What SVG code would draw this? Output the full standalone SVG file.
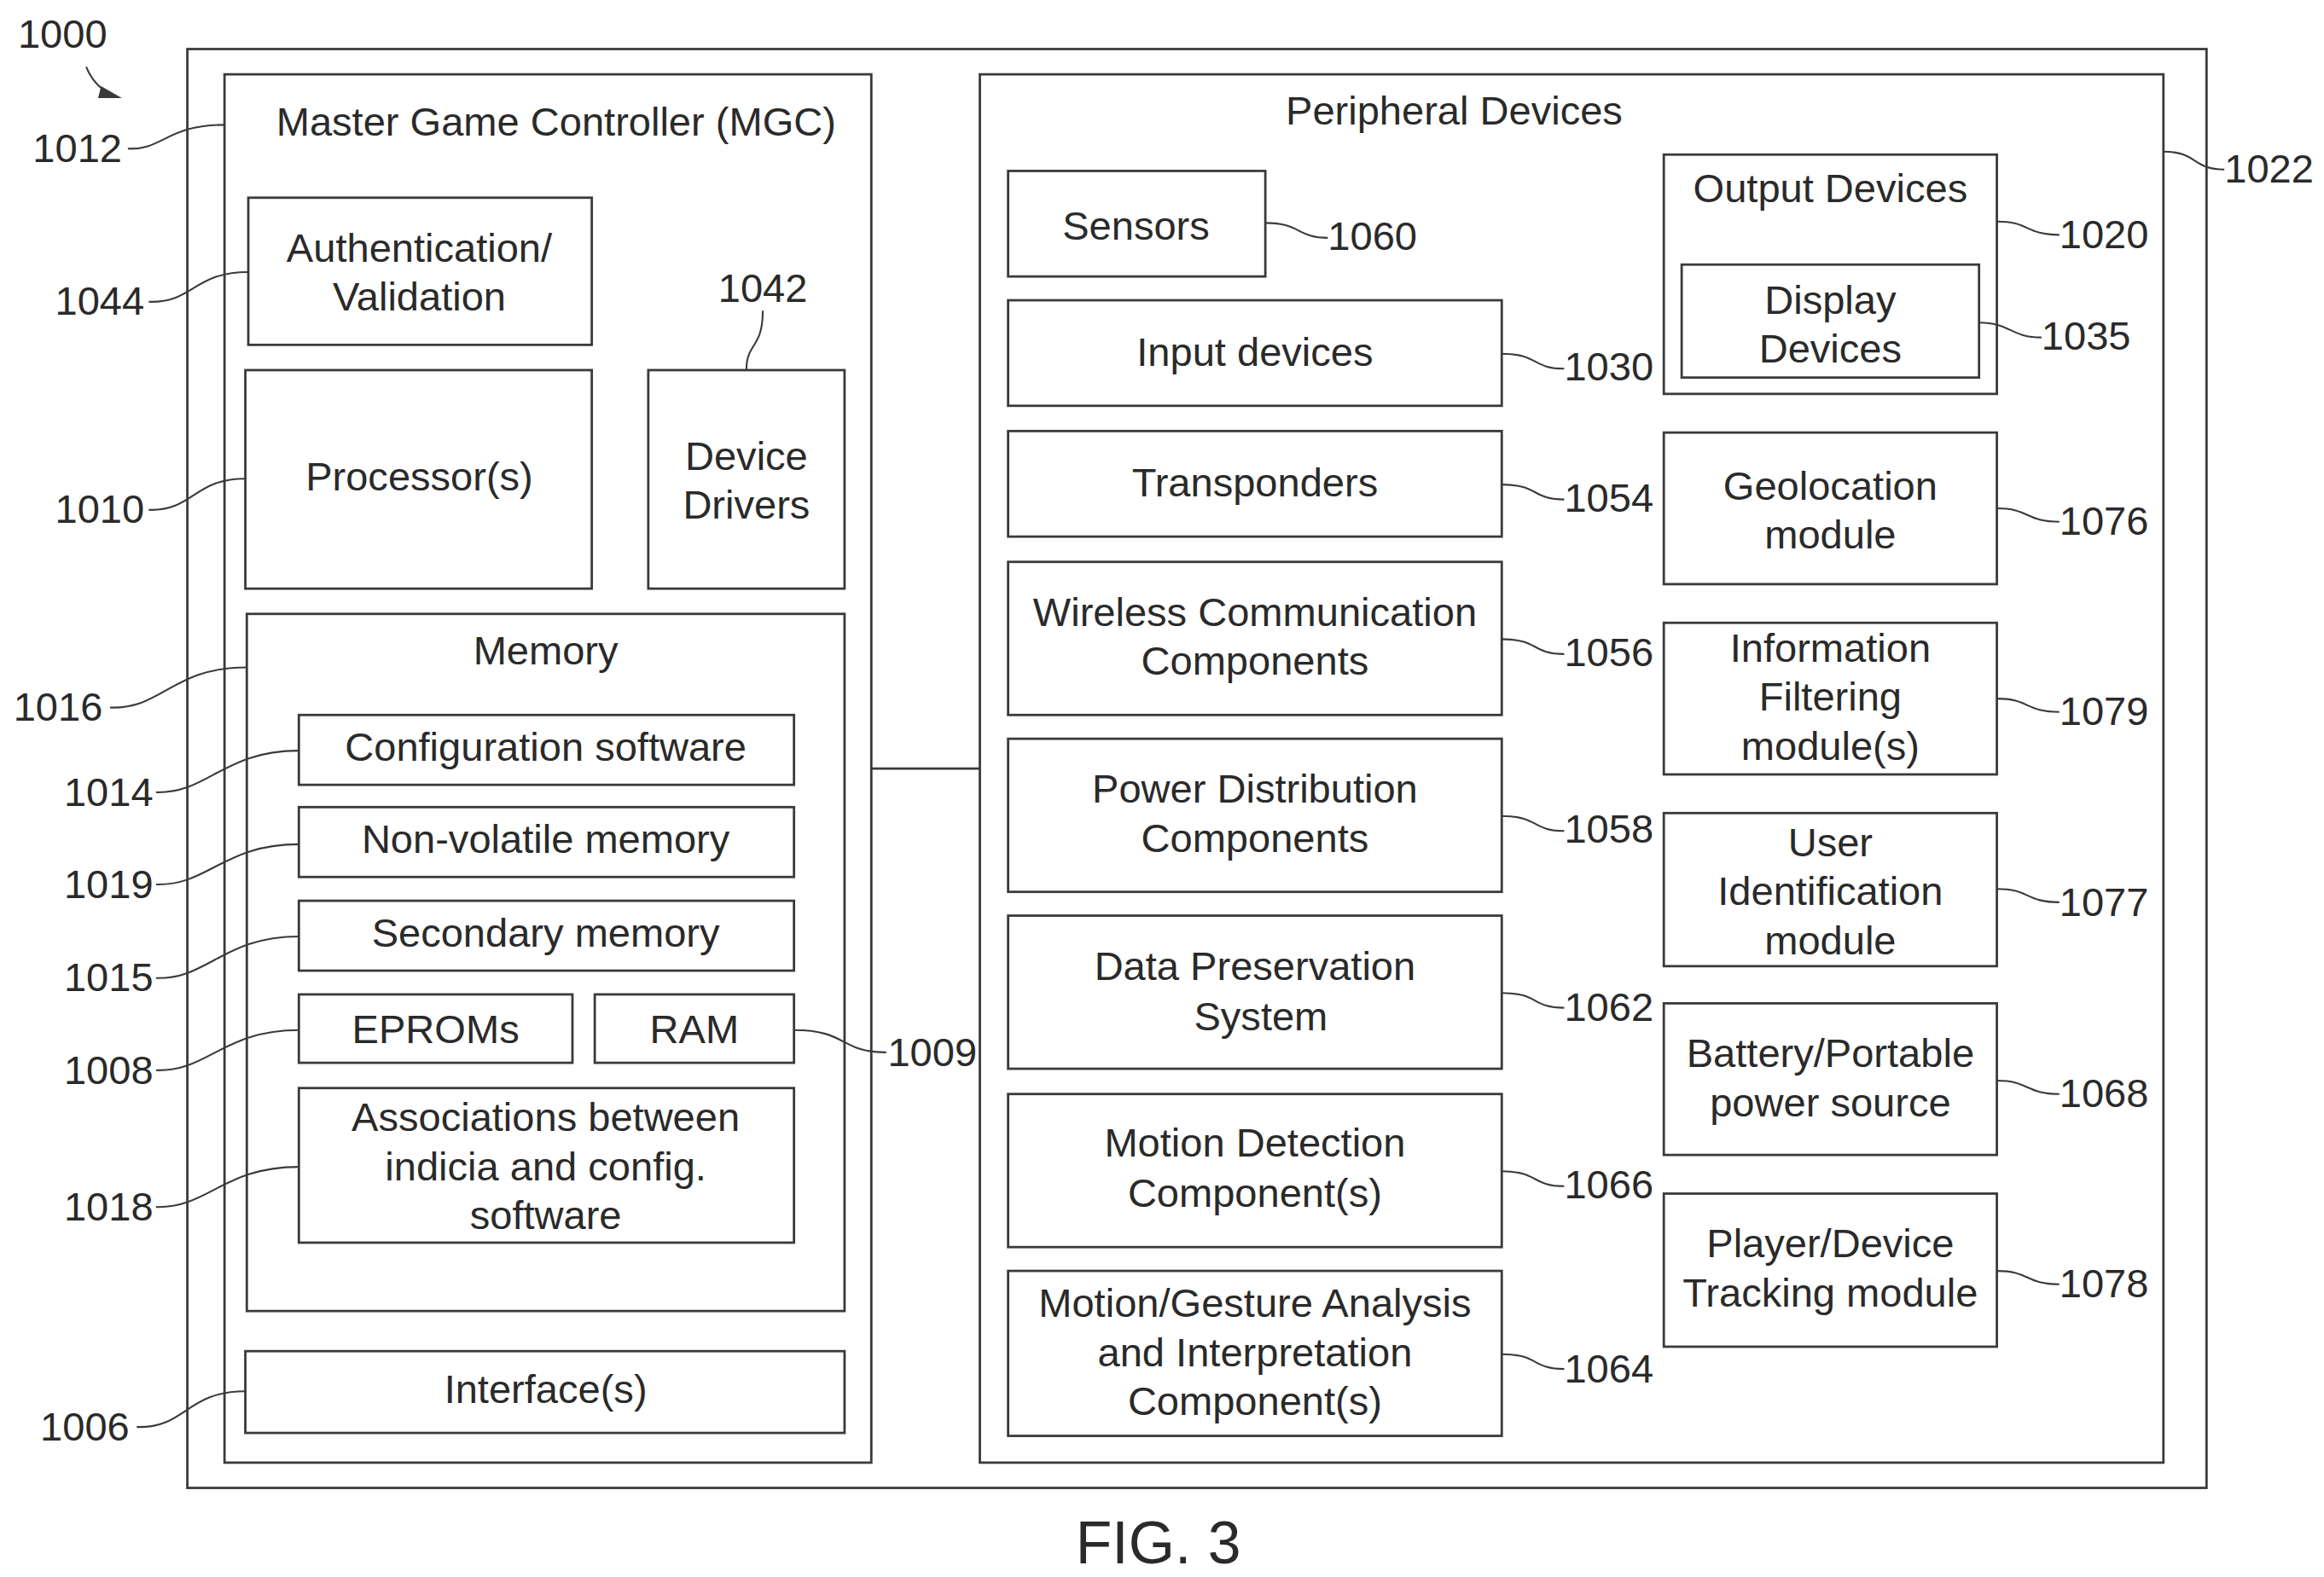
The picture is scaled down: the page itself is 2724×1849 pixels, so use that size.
<svg xmlns="http://www.w3.org/2000/svg" width="2724" height="1849" viewBox="0 0 2724 1849">
<style>
.b{fill:none;stroke:#3a3a3a;stroke-width:1.6}
.l{fill:none;stroke:#3a3a3a;stroke-width:1.2}
text{font-family:"Liberation Sans",Arial,sans-serif;font-size:27px;fill:#2a2a2a}
.c{text-anchor:middle}
.n{font-size:27px}
</style>
<rect width="2724" height="1849" fill="#fff"/>
<g transform="scale(1.7428)">
<g id="system"><rect class="b" x="126" y="33" width="1358" height="968"/></g>
<g id="mgc"><rect class="b" x="151" y="50" width="435" height="934"/><text class="c" x="374" y="91">Master Game Controller (MGC)</text></g>
<g id="auth"><rect class="b" x="167" y="133" width="231" height="99"/><text class="c" x="282" y="176">Authentication/</text><text class="c" x="282" y="209">Validation</text></g>
<g id="proc"><rect class="b" x="165" y="249" width="233" height="147"/><text class="c" x="282" y="330">Processor(s)</text></g>
<g id="drivers"><rect class="b" x="436" y="249" width="132" height="147"/><text class="c" x="502" y="316">Device</text><text class="c" x="502" y="349">Drivers</text></g>
<g id="memory"><rect class="b" x="166" y="413" width="402" height="469"/><text class="c" x="367" y="447">Memory</text></g>
<g id="config"><rect class="b" x="201" y="481" width="333" height="47"/><text class="c" x="367" y="512">Configuration software</text></g>
<g id="nvm"><rect class="b" x="201" y="543" width="333" height="47"/><text class="c" x="367" y="574">Non-volatile memory</text></g>
<g id="secondary"><rect class="b" x="201" y="606" width="333" height="47"/><text class="c" x="367" y="637">Secondary memory</text></g>
<g id="eproms"><rect class="b" x="201" y="669" width="184" height="46"/><text class="c" x="293" y="702">EPROMs</text></g>
<g id="ram"><rect class="b" x="400" y="669" width="134" height="46"/><text class="c" x="467" y="702">RAM</text></g>
<g id="assoc"><rect class="b" x="201" y="732" width="333" height="104"/><text class="c" x="367" y="761">Associations between</text><text class="c" x="367" y="794">indicia and config.</text><text class="c" x="367" y="827">software</text></g>
<g id="iface"><rect class="b" x="165" y="909" width="403" height="55"/><text class="c" x="367" y="944">Interface(s)</text></g>

<g id="periph"><rect class="b" x="659" y="50" width="796" height="934"/><text class="c" x="978" y="84">Peripheral Devices</text></g>
<g id="sensors"><rect class="b" x="678" y="115" width="173" height="71"/><text class="c" x="764" y="161">Sensors</text></g>
<g id="input"><rect class="b" x="678" y="202" width="332" height="71"/><text class="c" x="844" y="246">Input devices</text></g>
<g id="transp"><rect class="b" x="678" y="290" width="332" height="71"/><text class="c" x="844" y="334">Transponders</text></g>
<g id="wireless"><rect class="b" x="678" y="378" width="332" height="103"/><text class="c" x="844" y="421">Wireless Communication</text><text class="c" x="844" y="454">Components</text></g>
<g id="power"><rect class="b" x="678" y="497" width="332" height="103"/><text class="c" x="844" y="540">Power Distribution</text><text class="c" x="844" y="573">Components</text></g>
<g id="datap"><rect class="b" x="678" y="616" width="332" height="103"/><text class="c" x="844" y="659">Data Preservation</text><text class="c" x="848" y="693">System</text></g>
<g id="motiondet"><rect class="b" x="678" y="736" width="332" height="103"/><text class="c" x="844" y="778">Motion Detection</text><text class="c" x="844" y="812">Component(s)</text></g>
<g id="gesture"><rect class="b" x="678" y="855" width="332" height="111"/><text class="c" x="844" y="886">Motion/Gesture Analysis</text><text class="c" x="844" y="919">and Interpretation</text><text class="c" x="844" y="952">Component(s)</text></g>
<g id="output"><rect class="b" x="1119" y="104" width="224" height="161"/><text class="c" x="1231" y="136">Output Devices</text></g>
<g id="display"><rect class="b" x="1131" y="178" width="200" height="76"/><text class="c" x="1231" y="211">Display</text><text class="c" x="1231" y="244">Devices</text></g>
<g id="geo"><rect class="b" x="1119" y="291" width="224" height="102"/><text class="c" x="1231" y="336">Geolocation</text><text class="c" x="1231" y="369">module</text></g>
<g id="filter"><rect class="b" x="1119" y="419" width="224" height="102"/><text class="c" x="1231" y="445">Information</text><text class="c" x="1231" y="478">Filtering</text><text class="c" x="1231" y="511">module(s)</text></g>
<g id="userid"><rect class="b" x="1119" y="547" width="224" height="103"/><text class="c" x="1231" y="576">User</text><text class="c" x="1231" y="609">Identification</text><text class="c" x="1231" y="642">module</text></g>
<g id="battery"><rect class="b" x="1119" y="675" width="224" height="102"/><text class="c" x="1231" y="718">Battery/Portable</text><text class="c" x="1231" y="751">power source</text></g>
<g id="tracking"><rect class="b" x="1119" y="803" width="224" height="103"/><text class="c" x="1231" y="846">Player/Device</text><text class="c" x="1231" y="879">Tracking module</text></g>

<g id="connectors">
<line class="b" x1="586" y1="517" x2="659" y2="517"/>
<path class="l" d="M58 45 C62 55 68 60 74 63" stroke-width="1.5"/>
<path d="M68 58 L82 66 L66 66 Z" fill="#3a3a3a"/>
<path class="l" d="M86 100 C110 101 112 84 151 84"/>
<path class="l" d="M100 203 C130 204 130 183 167 183"/>
<path class="l" d="M100 343 C130 344 130 322 165 322"/>
<path class="l" d="M74 476 C110 477 115 449 166 449"/>
<path class="l" d="M105 533 C140 534 150 505 201 505"/>
<path class="l" d="M105 595 C140 596 150 568 201 568"/>
<path class="l" d="M105 658 C140 659 150 630 201 630"/>
<path class="l" d="M105 720 C140 721 150 693 201 693"/>
<path class="l" d="M105 812 C140 813 150 785 201 785"/>
<path class="l" d="M92 960 C125 961 125 936 165 936"/>
<path class="l" d="M513 209 C513 235 502 230 502 249"/>
<path class="l" d="M534 693 C570 693 565 708 596 708"/>
<path class="l" d="M851 150 C875 150 872 160 893 160"/>
<path class="l" d="M1010 238 C1035 238 1030 248 1052 248"/>
<path class="l" d="M1010 326 C1035 326 1030 336 1052 336"/>
<path class="l" d="M1010 430 C1035 430 1030 440 1052 440"/>
<path class="l" d="M1010 549 C1035 549 1030 559 1052 559"/>
<path class="l" d="M1010 668 C1035 668 1030 678 1052 678"/>
<path class="l" d="M1010 788 C1035 788 1030 798 1052 798"/>
<path class="l" d="M1010 911 C1035 911 1030 921 1052 921"/>
<path class="l" d="M1343 149 C1365 149 1362 158 1385 158"/>
<path class="l" d="M1331 217 C1352 217 1352 227 1373 227"/>
<path class="l" d="M1343 342 C1365 342 1362 351 1385 351"/>
<path class="l" d="M1343 470 C1365 470 1362 479 1385 479"/>
<path class="l" d="M1343 598 C1365 598 1362 607 1385 607"/>
<path class="l" d="M1343 727 C1365 727 1362 736 1385 736"/>
<path class="l" d="M1343 855 C1365 855 1362 864 1385 864"/>
<path class="l" d="M1455 102 C1478 102 1474 114 1496 114"/>
</g>
<g id="labels">
<text class="n" x="12" y="32">1000</text>
<text class="n" x="22" y="109">1012</text>
<text class="n" x="37" y="212">1044</text>
<text class="n" x="37" y="352">1010</text>
<text class="n" x="9" y="485">1016</text>
<text class="n" x="43" y="542">1014</text>
<text class="n" x="43" y="604">1019</text>
<text class="n" x="43" y="667">1015</text>
<text class="n" x="43" y="729">1008</text>
<text class="n" x="43" y="821">1018</text>
<text class="n" x="27" y="969">1006</text>
<text class="n" x="483" y="203">1042</text>
<text class="n" x="597" y="717">1009</text>
<text class="n" x="893" y="168">1060</text>
<text class="n" x="1052" y="256">1030</text>
<text class="n" x="1052" y="344">1054</text>
<text class="n" x="1052" y="448">1056</text>
<text class="n" x="1052" y="567">1058</text>
<text class="n" x="1052" y="687">1062</text>
<text class="n" x="1052" y="806">1066</text>
<text class="n" x="1052" y="930">1064</text>
<text class="n" x="1385" y="167">1020</text>
<text class="n" x="1373" y="235">1035</text>
<text class="n" x="1385" y="360">1076</text>
<text class="n" x="1385" y="488">1079</text>
<text class="n" x="1385" y="616">1077</text>
<text class="n" x="1385" y="745">1068</text>
<text class="n" x="1385" y="873">1078</text>
<text class="n" x="1496" y="123">1022</text>
<text class="c" x="779" y="1052" style="font-size:40px">FIG. 3</text>
</g>
</g>
</svg>
